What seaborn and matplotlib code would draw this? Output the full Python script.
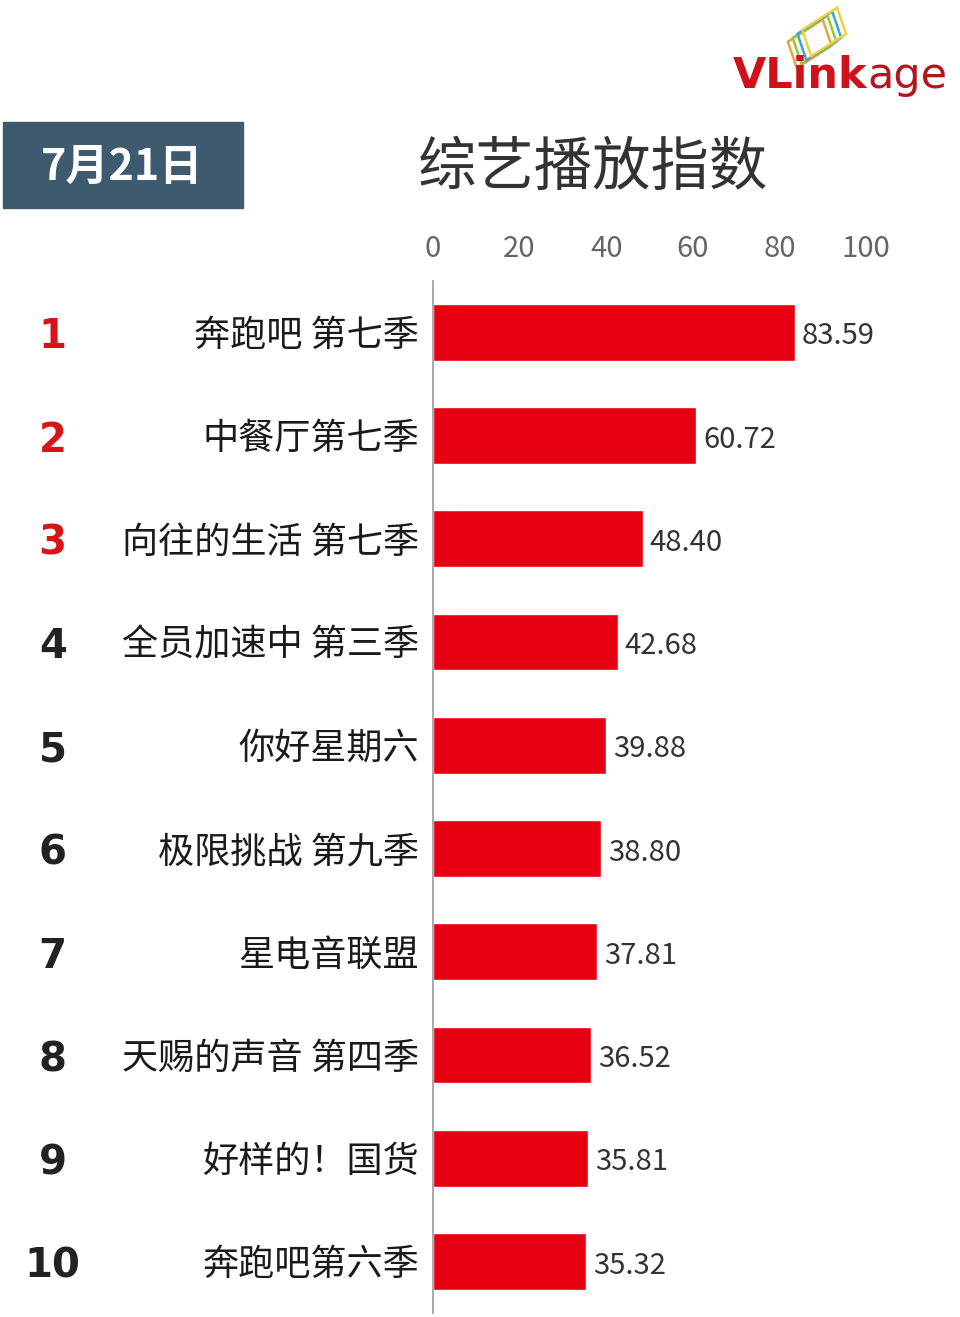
import matplotlib
matplotlib.use("Agg")
import matplotlib.pyplot as plt
import matplotlib.patches as mpatches
import matplotlib.transforms as mtransforms
import pandas as pd
import seaborn as sns

# chart data
ranks = ["1", "2", "3", "4", "5", "6", "7", "8", "9", "10"]
shows = ["奔跑吧 第七季", "中餐厅第七季", "向往的生活 第七季", "全员加速中 第三季", "你好星期六",
         "极限挑战 第九季", "星电音联盟", "天赐的声音 第四季", "好样的！国货", "奔跑吧第六季"]
scores = [83.59, 60.72, 48.40, 42.68, 39.88, 38.80, 37.81, 36.52, 35.81, 35.32]
x_ticks = [0, 20, 40, 60, 80, 100]
title = "综艺播放指数"
date_label = "7月21日"

df = pd.DataFrame({"show": shows, "score": scores})

sns.set_theme(style="white")
plt.rcParams["font.family"] = ["Noto Sans CJK SC", "DejaVu Sans"]

fig = plt.figure(figsize=(9.6, 13.17), dpi=100)
ax = fig.add_axes([0.451, 0.003, 0.528, 0.784])

sns.barplot(data=df, x="score", y="show", color="#e60012", saturation=1,
            width=0.55, ax=ax)

ax.set_xlim(0, 117)
ax.set_ylim(9.5, -0.5)
ax.set_xlabel("")
ax.set_ylabel("")
ax.xaxis.tick_top()
ax.set_xticks(x_ticks)
ax.set_xticklabels([str(t) for t in x_ticks])
ax.tick_params(axis="x", length=0, pad=12, labelsize=21, labelcolor="#666666")
ax.tick_params(axis="y", length=0, pad=10, labelsize=26, labelcolor="#1a1a1a")
for side in ["top", "right", "bottom"]:
    ax.spines[side].set_visible(False)
ax.spines["left"].set_color("#999999")
ax.spines["left"].set_linewidth(1.2)

# value labels
for i, v in enumerate(scores):
    ax.text(v + 1.6, i + 0.04, f"{v:.2f}", va="center", ha="left", fontsize=21, color="#333333")

# rank numbers
trans = mtransforms.blended_transform_factory(fig.transFigure, ax.transData)
for i, r in enumerate(ranks):
    col = "#d7141a" if i < 3 else "#222222"
    ax.text(0.055, i + 0.05, r, transform=trans, ha="center", va="center",
            fontsize=29, fontweight="bold", color=col, family="DejaVu Sans")

# title
fig.text(0.618, 1 - 168 / 1317, title, ha="center", va="center", fontsize=42, color="#333333")

# date box
fig.patches.append(mpatches.Rectangle((0.003, 1 - 208 / 1317), 0.25, 86 / 1317,
                                      transform=fig.transFigure, color="#3d5a6e", zorder=1))
fig.text(0.127, 1 - 167 / 1317, date_label, ha="center", va="center", fontsize=31,
         fontweight="bold", color="white", zorder=2)

# logo
t1 = fig.text(0.763, 1 - 76 / 1317, "VLink", ha="left", va="center", fontsize=31,
              fontweight="bold", color="#d0111b", family="DejaVu Sans")
fig.canvas.draw()
bb = t1.get_window_extent().transformed(fig.transFigure.inverted())
fig.text(bb.x1, 1 - 76 / 1317, "age", ha="left", va="center", fontsize=31,
         color="#b5161e", family="DejaVu Sans")
logo_cols = ["#e8a33a", "#9cc63b", "#3ba7c9", "#f0d040"]
for k, c in enumerate(logo_cols):
    fig.patches.append(mpatches.Rectangle((0.830 + k * 0.005, 1 - 68 / 1317 + k * 0.003),
                                          0.04, 0.022, angle=25, fill=False, edgecolor=c,
                                          linewidth=1.8, transform=fig.transFigure))

fig.savefig("out.png", dpi=100, facecolor="white")
